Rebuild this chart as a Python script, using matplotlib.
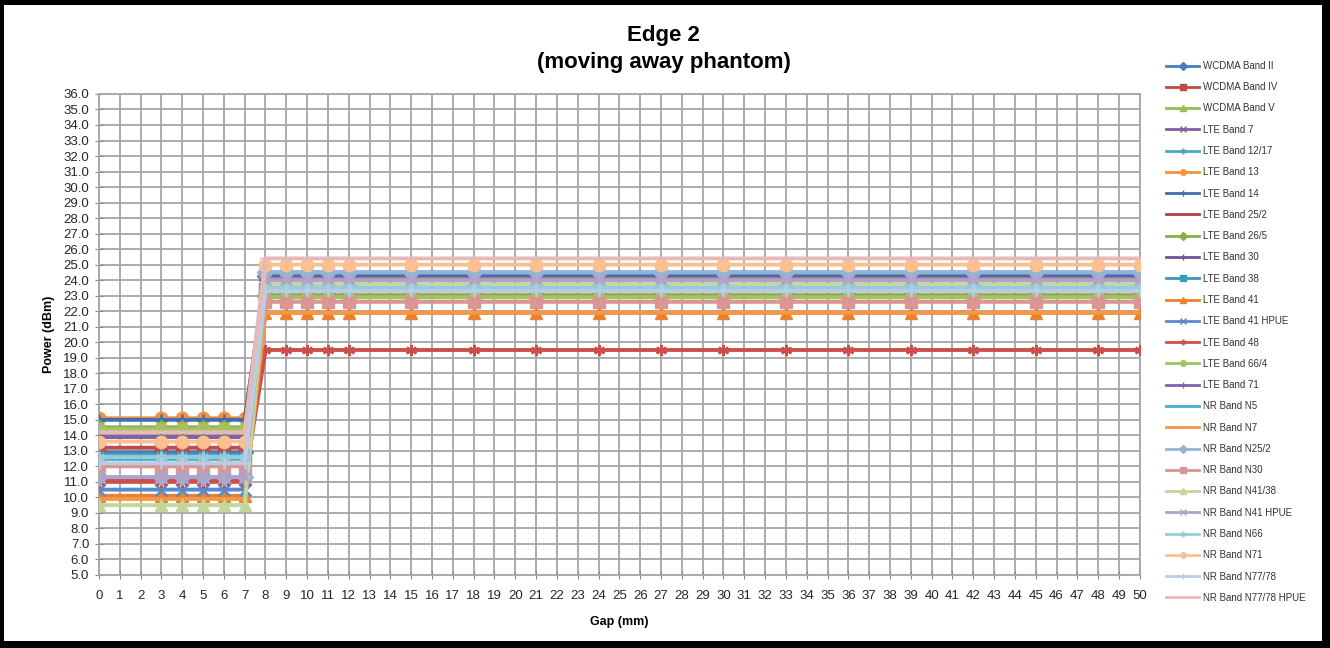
import matplotlib
matplotlib.use("Agg")
import matplotlib.pyplot as plt
from matplotlib.lines import Line2D
from matplotlib.patches import Rectangle

# gap positions (mm)
gap_mm = [0, 3, 4, 5, 6, 7, 8, 9, 10, 11, 12, 15, 18, 21, 24, 27, 30, 33, 36, 39, 42, 45, 48, 50]

band_names = [
    "WCDMA Band II", "WCDMA Band IV", "WCDMA Band V", "LTE Band 7", "LTE Band 12/17",
    "LTE Band 13", "LTE Band 14", "LTE Band 25/2", "LTE Band 26/5", "LTE Band 30",
    "LTE Band 38", "LTE Band 41", "LTE Band 41 HPUE", "LTE Band 48", "LTE Band 66/4",
    "LTE Band 71", "NR Band N5", "NR Band N7", "NR Band N25/2", "NR Band N30",
    "NR Band N41/38", "NR Band N41 HPUE", "NR Band N66", "NR Band N71", "NR Band N77/78",
    "NR Band N77/78 HPUE",
]

# power (dBm) per band, one value per gap position
wcdma_2 = [12.9, 12.9, 12.9, 12.9, 12.9, 12.9, 24.3, 24.3, 24.3, 24.3, 24.3, 24.3, 24.3, 24.3, 24.3, 24.3, 24.3, 24.3, 24.3, 24.3, 24.3, 24.3, 24.3, 24.3]
wcdma_4 = [13.2, 13.2, 13.2, 13.2, 13.2, 13.2, 23.0, 23.0, 23.0, 23.0, 23.0, 23.0, 23.0, 23.0, 23.0, 23.0, 23.0, 23.0, 23.0, 23.0, 23.0, 23.0, 23.0, 23.0]
wcdma_5 = [14.5, 14.5, 14.5, 14.5, 14.5, 14.5, 22.9, 22.9, 22.9, 22.9, 22.9, 22.9, 22.9, 22.9, 22.9, 22.9, 22.9, 22.9, 22.9, 22.9, 22.9, 22.9, 22.9, 22.9]
lte_7 = [11.2, 11.2, 11.2, 11.2, 11.2, 11.2, 24.0, 24.0, 24.0, 24.0, 24.0, 24.0, 24.0, 24.0, 24.0, 24.0, 24.0, 24.0, 24.0, 24.0, 24.0, 24.0, 24.0, 24.0]
lte_12_17 = [12.7, 12.7, 12.7, 12.7, 12.7, 12.7, 23.4, 23.4, 23.4, 23.4, 23.4, 23.4, 23.4, 23.4, 23.4, 23.4, 23.4, 23.4, 23.4, 23.4, 23.4, 23.4, 23.4, 23.4]
lte_13 = [15.1, 15.1, 15.1, 15.1, 15.1, 15.1, 24.2, 24.2, 24.2, 24.2, 24.2, 24.2, 24.2, 24.2, 24.2, 24.2, 24.2, 24.2, 24.2, 24.2, 24.2, 24.2, 24.2, 24.2]
lte_14 = [15.0, 15.0, 15.0, 15.0, 15.0, 15.0, 24.3, 24.3, 24.3, 24.3, 24.3, 24.3, 24.3, 24.3, 24.3, 24.3, 24.3, 24.3, 24.3, 24.3, 24.3, 24.3, 24.3, 24.3]
lte_25_2 = [11.1, 11.1, 11.1, 11.1, 11.1, 11.1, 23.0, 23.0, 23.0, 23.0, 23.0, 23.0, 23.0, 23.0, 23.0, 23.0, 23.0, 23.0, 23.0, 23.0, 23.0, 23.0, 23.0, 23.0]
lte_26_5 = [14.5, 14.5, 14.5, 14.5, 14.5, 14.5, 23.0, 23.0, 23.0, 23.0, 23.0, 23.0, 23.0, 23.0, 23.0, 23.0, 23.0, 23.0, 23.0, 23.0, 23.0, 23.0, 23.0, 23.0]
lte_30 = [13.9, 13.9, 13.9, 13.9, 13.9, 13.9, 24.0, 24.0, 24.0, 24.0, 24.0, 24.0, 24.0, 24.0, 24.0, 24.0, 24.0, 24.0, 24.0, 24.0, 24.0, 24.0, 24.0, 24.0]
lte_38 = [12.5, 12.5, 12.5, 12.5, 12.5, 12.5, 23.4, 23.4, 23.4, 23.4, 23.4, 23.4, 23.4, 23.4, 23.4, 23.4, 23.4, 23.4, 23.4, 23.4, 23.4, 23.4, 23.4, 23.4]
lte_41 = [10.1, 10.1, 10.1, 10.1, 10.1, 10.1, 21.9, 21.9, 21.9, 21.9, 21.9, 21.9, 21.9, 21.9, 21.9, 21.9, 21.9, 21.9, 21.9, 21.9, 21.9, 21.9, 21.9, 21.9]
lte_41_hpue = [10.5, 10.5, 10.5, 10.5, 10.5, 10.5, 24.5, 24.5, 24.5, 24.5, 24.5, 24.5, 24.5, 24.5, 24.5, 24.5, 24.5, 24.5, 24.5, 24.5, 24.5, 24.5, 24.5, 24.5]
lte_48 = [11.0, 11.0, 11.0, 11.0, 11.0, 11.0, 19.5, 19.5, 19.5, 19.5, 19.5, 19.5, 19.5, 19.5, 19.5, 19.5, 19.5, 19.5, 19.5, 19.5, 19.5, 19.5, 19.5, 19.5]
lte_66_4 = [14.4, 14.4, 14.4, 14.4, 14.4, 14.4, 22.9, 22.9, 22.9, 22.9, 22.9, 22.9, 22.9, 22.9, 22.9, 22.9, 22.9, 22.9, 22.9, 22.9, 22.9, 22.9, 22.9, 22.9]
lte_71 = [13.9, 13.9, 13.9, 13.9, 13.9, 13.9, 24.0, 24.0, 24.0, 24.0, 24.0, 24.0, 24.0, 24.0, 24.0, 24.0, 24.0, 24.0, 24.0, 24.0, 24.0, 24.0, 24.0, 24.0]
nr_n5 = [12.5, 12.5, 12.5, 12.5, 12.5, 12.5, 23.5, 23.5, 23.5, 23.5, 23.5, 23.5, 23.5, 23.5, 23.5, 23.5, 23.5, 23.5, 23.5, 23.5, 23.5, 23.5, 23.5, 23.5]
nr_n7 = [9.9, 9.9, 9.9, 9.9, 9.9, 9.9, 21.9, 21.9, 21.9, 21.9, 21.9, 21.9, 21.9, 21.9, 21.9, 21.9, 21.9, 21.9, 21.9, 21.9, 21.9, 21.9, 21.9, 21.9]
nr_n25_2 = [11.3, 11.3, 11.3, 11.3, 11.3, 11.3, 24.5, 24.5, 24.5, 24.5, 24.5, 24.5, 24.5, 24.5, 24.5, 24.5, 24.5, 24.5, 24.5, 24.5, 24.5, 24.5, 24.5, 24.5]
nr_n30 = [12.0, 12.0, 12.0, 12.0, 12.0, 12.0, 22.6, 22.6, 22.6, 22.6, 22.6, 22.6, 22.6, 22.6, 22.6, 22.6, 22.6, 22.6, 22.6, 22.6, 22.6, 22.6, 22.6, 22.6]
nr_n41_38 = [9.5, 9.5, 9.5, 9.5, 9.5, 9.5, 23.7, 23.7, 23.7, 23.7, 23.7, 23.7, 23.7, 23.7, 23.7, 23.7, 23.7, 23.7, 23.7, 23.7, 23.7, 23.7, 23.7, 23.7]
nr_n41_hpue = [11.3, 11.3, 11.3, 11.3, 11.3, 11.3, 24.0, 24.0, 24.0, 24.0, 24.0, 24.0, 24.0, 24.0, 24.0, 24.0, 24.0, 24.0, 24.0, 24.0, 24.0, 24.0, 24.0, 24.0]
nr_n66 = [12.6, 12.6, 12.6, 12.6, 12.6, 12.6, 23.5, 23.5, 23.5, 23.5, 23.5, 23.5, 23.5, 23.5, 23.5, 23.5, 23.5, 23.5, 23.5, 23.5, 23.5, 23.5, 23.5, 23.5]
nr_n71 = [13.6, 13.6, 13.6, 13.6, 13.6, 13.6, 25.0, 25.0, 25.0, 25.0, 25.0, 25.0, 25.0, 25.0, 25.0, 25.0, 25.0, 25.0, 25.0, 25.0, 25.0, 25.0, 25.0, 25.0]
nr_n77_78 = [12.2, 12.2, 12.2, 12.2, 12.2, 12.2, 23.3, 23.3, 23.3, 23.3, 23.3, 23.3, 23.3, 23.3, 23.3, 23.3, 23.3, 23.3, 23.3, 23.3, 23.3, 23.3, 23.3, 23.3]
nr_n77_78_hpue = [14.2, 14.2, 14.2, 14.2, 14.2, 14.2, 25.4, 25.4, 25.4, 25.4, 25.4, 25.4, 25.4, 25.4, 25.4, 25.4, 25.4, 25.4, 25.4, 25.4, 25.4, 25.4, 25.4, 25.4]

series = [wcdma_2, wcdma_4, wcdma_5, lte_7, lte_12_17, lte_13, lte_14, lte_25_2, lte_26_5,
          lte_30, lte_38, lte_41, lte_41_hpue, lte_48, lte_66_4, lte_71, nr_n5, nr_n7,
          nr_n25_2, nr_n30, nr_n41_38, nr_n41_hpue, nr_n66, nr_n71, nr_n77_78, nr_n77_78_hpue]

# excel 2007 style palette
colors = [
    "#4A7EBB", "#BE4B48", "#98B954", "#7D60A0", "#46AAC5", "#F69240",
    "#3F6FAE", "#B0413E", "#8CAE48", "#6F5494", "#3A9DB8", "#E8822F",
    "#5A8ACB", "#CC4F4C", "#A2C35E", "#7F63A6", "#4BACC6", "#F79646",
    "#95B3D7", "#D99694", "#C3D69B", "#B3A2C7", "#93CDDD", "#FAC090",
    "#B9CDE5", "#E6B9B8",
]
star = (6, 2, 0)
markers = ["D", "s", "^", "x", star, "o", "+", "_",
           "D", "+", "s", "^", "x", star, "o", "+", "_", "_",
           "D", "s", "^", "x", star, "o", "+", "_"]

fig = plt.figure(figsize=(13.3, 6.48), dpi=100)
plt.rcParams['font.family'] = ['Liberation Sans', 'DejaVu Sans']

# black border (thicker on top and right, like the screenshot)
border = [(0, 0, 4, 648), (0, 0, 1330, 5), (0, 641, 1330, 7), (1322, 0, 8, 648)]
for bx, by, bw, bh in border:
    fig.patches.append(Rectangle((bx / 1330, 1 - (by + bh) / 648), bw / 1330, bh / 648,
                                 transform=fig.transFigure, facecolor='black',
                                 edgecolor='none', zorder=10))

ax = fig.add_axes([0.0744, 0.1127, 0.7826, 0.7423])

for i, (vals, name) in enumerate(zip(series, band_names)):
    m = markers[i]
    ms = 9 if m in ("o", "^", "s") else 8
    mew = 1.8 if m in ("x", "+", star) else 1
    ax.plot(gap_mm, vals, color=colors[i], linewidth=2.8, marker=m, markersize=ms,
            markeredgewidth=mew, markeredgecolor=colors[i], markerfacecolor=colors[i],
            zorder=3 + i * 0.01)

ax.set_xlim(0, 50)
ax.set_ylim(5, 36)
ax.set_xticks(range(0, 51))
ax.set_yticks(range(5, 37))
ax.set_yticklabels([f"{v:.1f}" for v in range(5, 37)])
ax.grid(True, color='#A6A6A6', linewidth=1.3, zorder=0)
ax.set_axisbelow(True)
for s in ax.spines.values():
    s.set_color('#A6A6A6')
    s.set_linewidth(1.3)
ax.tick_params(axis='both', direction='inout', length=6, color='#868686', labelsize=9.5,
               labelcolor='#262626', pad=4)
ax.tick_params(axis='x', pad=8)

ax.set_xlabel("Gap (mm)", fontsize=9, fontweight='bold', labelpad=10)
ax.set_ylabel("Power (dBm)", fontsize=9, fontweight='bold', labelpad=6)

fig.text(0.499, 0.945, "Edge 2", ha='center', va='center', fontsize=16, fontweight='bold')
fig.text(0.499, 0.903, "(moving away phantom)", ha='center', va='center', fontsize=16,
         fontweight='bold')

handles = []
for i in range(len(series)):
    m = markers[i]
    handles.append(Line2D([], [], color=colors[i], linewidth=2, marker=m, markersize=4,
                          markeredgecolor=colors[i], markerfacecolor=colors[i]))
leg = fig.legend(handles, band_names, loc='upper left', bbox_to_anchor=(0.874, 0.912),
                 frameon=False, fontsize=7, handlelength=3.4, handletextpad=0.4,
                 labelspacing=1.16, borderaxespad=0)
for t in leg.get_texts():
    t.set_color('#333333')

fig.savefig("out.png", dpi=100)
